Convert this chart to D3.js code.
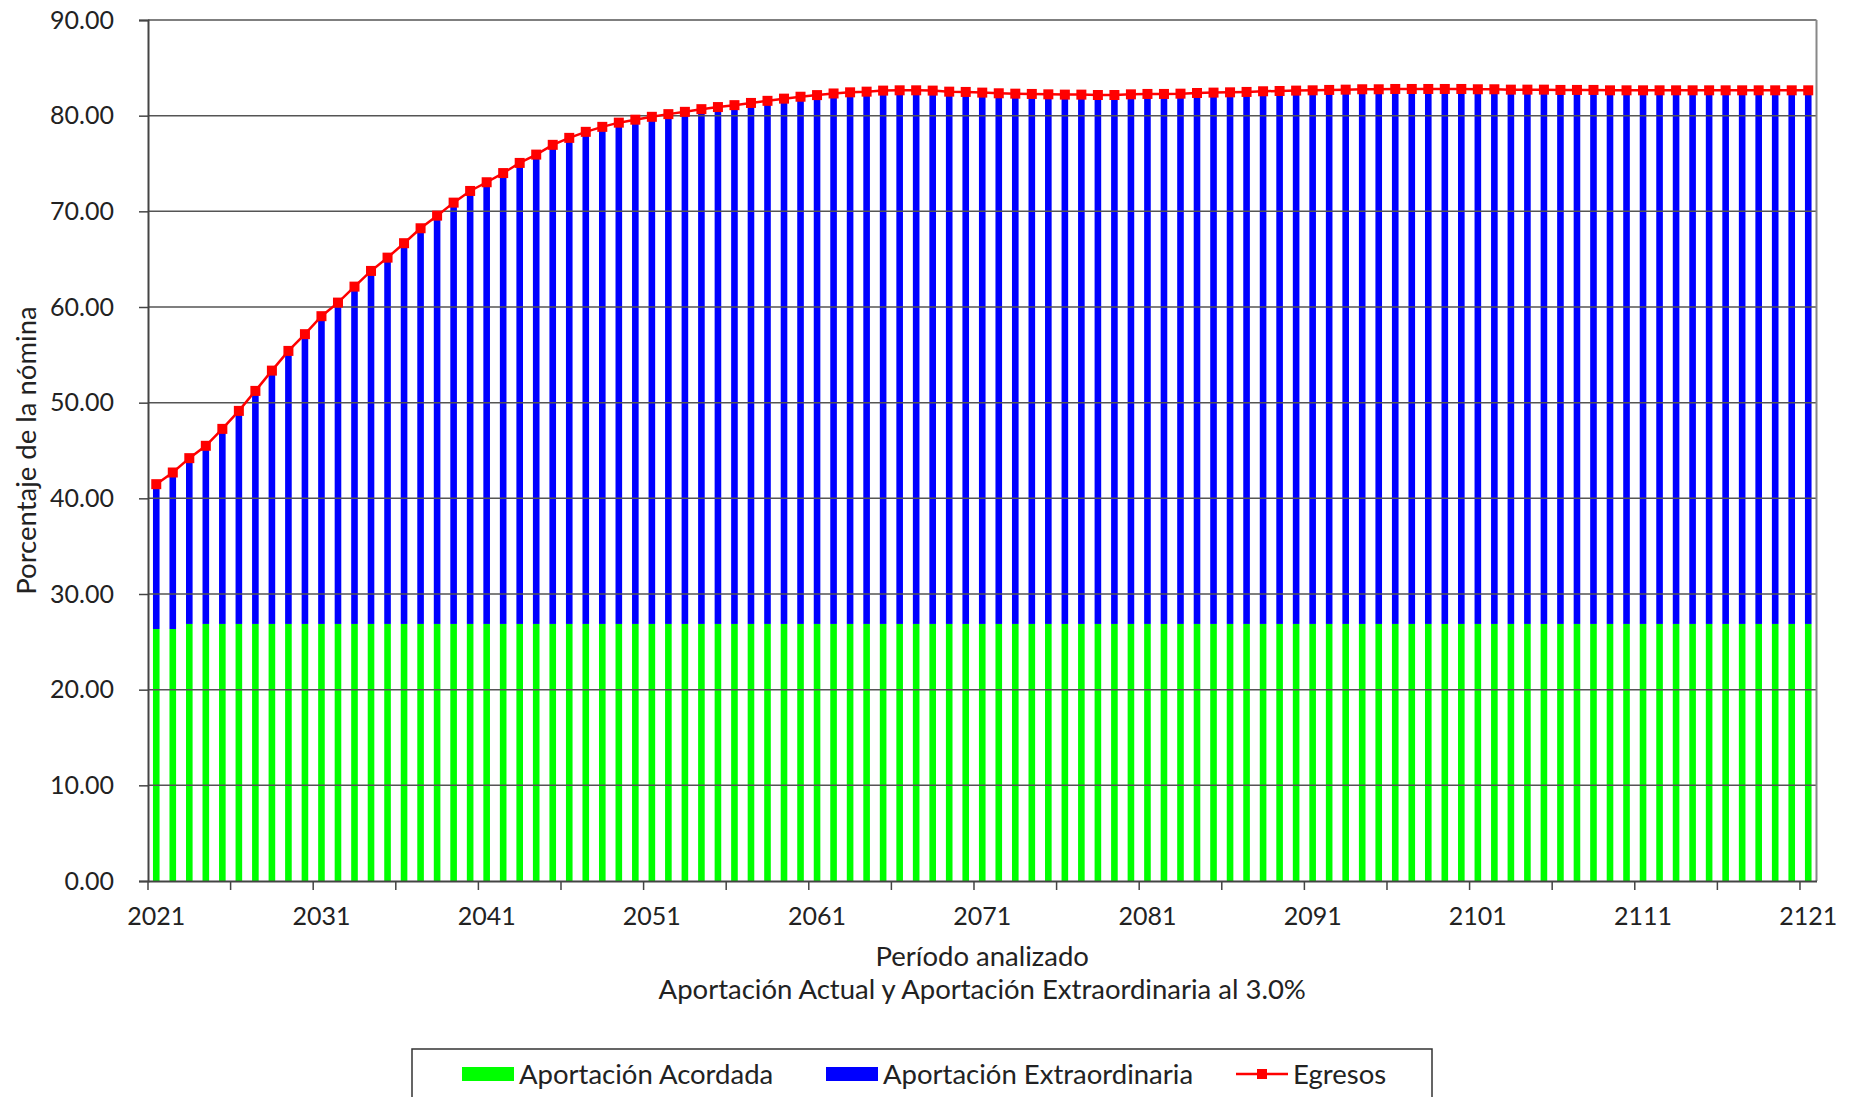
<!DOCTYPE html>
<html>
<head>
<meta charset="utf-8">
<script src="https://cdn.jsdelivr.net/npm/d3@7"></script>
<style>
  body { margin: 0; background: #fff; }
  text { font-family: Lato, "Open Sans", sans-serif; fill: #222; }
</style>
</head>
<body>
<div id="chart-area"></div>
<script>
// categories
var years = d3.range(2021, 2122);
var labelYears = [2021, 2031, 2041, 2051, 2061, 2071, 2081, 2091, 2101, 2111, 2121];
var yTicks = [0, 10, 20, 30, 40, 50, 60, 70, 80, 90];

// Aportación Acordada (green)
var acordada = [
  26.34, 26.34, 26.87, 26.87, 26.87, 26.87, 26.87, 26.87, 26.87, 26.87,
  26.87, 26.87, 26.87, 26.87, 26.87, 26.87, 26.87, 26.87, 26.87, 26.87,
  26.87, 26.87, 26.87, 26.87, 26.87, 26.87, 26.87, 26.87, 26.87, 26.87,
  26.87, 26.87, 26.87, 26.87, 26.87, 26.87, 26.87, 26.87, 26.87, 26.87,
  26.87, 26.87, 26.87, 26.87, 26.87, 26.87, 26.87, 26.87, 26.87, 26.87,
  26.87, 26.87, 26.87, 26.87, 26.87, 26.87, 26.87, 26.87, 26.87, 26.87,
  26.87, 26.87, 26.87, 26.87, 26.87, 26.87, 26.87, 26.87, 26.87, 26.87,
  26.87, 26.87, 26.87, 26.87, 26.87, 26.87, 26.87, 26.87, 26.87, 26.87,
  26.87, 26.87, 26.87, 26.87, 26.87, 26.87, 26.87, 26.87, 26.87, 26.87,
  26.87, 26.87, 26.87, 26.87, 26.87, 26.87, 26.87, 26.87, 26.87, 26.87,
  26.87
];

// Egresos (red line) = top of the stacked bar
var egresos = [
  41.48, 42.70, 44.20, 45.49, 47.26, 49.14, 51.23, 53.35, 55.41, 57.16,
  59.04, 60.46, 62.13, 63.77, 65.16, 66.67, 68.23, 69.55, 70.91, 72.13,
  73.04, 74.00, 75.06, 75.93, 76.95, 77.68, 78.31, 78.83, 79.27, 79.58,
  79.88, 80.16, 80.40, 80.68, 80.90, 81.10, 81.33, 81.55, 81.78, 81.98,
  82.15, 82.32, 82.44, 82.51, 82.62, 82.65, 82.65, 82.62, 82.51, 82.48,
  82.41, 82.34, 82.30, 82.27, 82.23, 82.20, 82.20, 82.16, 82.16, 82.23,
  82.27, 82.27, 82.30, 82.37, 82.41, 82.44, 82.48, 82.55, 82.58, 82.62,
  82.65, 82.69, 82.72, 82.76, 82.76, 82.79, 82.79, 82.79, 82.79, 82.79,
  82.76, 82.76, 82.72, 82.72, 82.72, 82.69, 82.69, 82.69, 82.65, 82.65,
  82.65, 82.65, 82.65, 82.65, 82.65, 82.65, 82.65, 82.65, 82.65, 82.65,
  82.65
];

var svgWidth = 1849, svgHeight = 1097;
var margin = {left: 148, top: 20, right: 32.5, bottom: 216};
var width = svgWidth - margin.left - margin.right;
var height = svgHeight - margin.top - margin.bottom;

var svg = d3.select('#chart-area').append('svg')
  .attr('width', svgWidth).attr('height', svgHeight);

var g = svg.append('g').attr('transform', 'translate(' + margin.left + ',' + margin.top + ')');

var x = d3.scaleBand().domain(years).range([0, width])
  .paddingInner(0.6).paddingOuter(0.3);
var y = d3.scaleLinear().domain([0, 90]).range([height, 0]);

var data = years.map(function(yr, i) {
  return {year: yr, a: acordada[i], e: egresos[i]};
});

// bars
g.selectAll('rect.acordada').data(data).enter().append('rect')
  .attr('class', 'acordada')
  .attr('x', function(d) { return x(d.year); })
  .attr('width', x.bandwidth())
  .attr('y', function(d) { return y(d.a); })
  .attr('height', function(d) { return y(0) - y(d.a); })
  .attr('fill', '#00ff00');

g.selectAll('rect.extra').data(data).enter().append('rect')
  .attr('class', 'extra')
  .attr('x', function(d) { return x(d.year); })
  .attr('width', x.bandwidth())
  .attr('y', function(d) { return y(d.e); })
  .attr('height', function(d) { return y(d.a) - y(d.e); })
  .attr('fill', '#0000ff');

// gridlines (drawn over the bars, like the original)
g.selectAll('line.grid').data(yTicks.filter(function(t) { return t > 0; })).enter()
  .append('line').attr('class', 'grid')
  .attr('x1', 0).attr('x2', width)
  .attr('y1', function(d) { return y(d); }).attr('y2', function(d) { return y(d); })
  .attr('stroke', '#555').attr('stroke-width', 1.5);

// plot border right
g.append('line').attr('x1', width).attr('x2', width).attr('y1', 0).attr('y2', height)
  .attr('stroke', '#888').attr('stroke-width', 2);

// y axis
var yAxis = d3.axisLeft(y).tickValues(yTicks).tickFormat(d3.format('.2f')).tickSize(9).tickPadding(25);
var ya = g.append('g').call(yAxis);
ya.select('.domain').attr('stroke', '#444').attr('stroke-width', 2);
ya.selectAll('.tick line').attr('stroke', '#444').attr('stroke-width', 1.5);
ya.selectAll('text').style('font-size', '25px').attr('fill', '#222');

// x axis: labels every 10 years
var xAxis = d3.axisBottom(x).tickValues(labelYears).tickSize(0).tickPadding(26);
var xa = g.append('g').attr('transform', 'translate(0,' + height + ')').call(xAxis);
xa.select('.domain').attr('stroke', '#444').attr('stroke-width', 2);
xa.selectAll('text').style('font-size', '25px').attr('fill', '#222');

// x tick marks every 5 categories, on category boundaries
var half = (x.step() - x.bandwidth()) / 2;
var tickYears = years.filter(function(yr, i) { return i % 5 === 0; });
g.selectAll('line.xtick').data(tickYears).enter().append('line')
  .attr('class', 'xtick')
  .attr('x1', function(d) { return x(d) - half; })
  .attr('x2', function(d) { return x(d) - half; })
  .attr('y1', height).attr('y2', height + 9)
  .attr('stroke', '#444').attr('stroke-width', 1.5);

// Egresos line + square markers
var line = d3.line()
  .x(function(d) { return x(d.year) + x.bandwidth() / 2; })
  .y(function(d) { return y(d.e); });

g.append('path').datum(data)
  .attr('d', line).attr('fill', 'none')
  .attr('stroke', '#ff0000').attr('stroke-width', 2.5);

g.selectAll('rect.marker').data(data).enter().append('rect')
  .attr('class', 'marker')
  .attr('x', function(d) { return x(d.year) + x.bandwidth() / 2 - 5; })
  .attr('y', function(d) { return y(d.e) - 5; })
  .attr('width', 10).attr('height', 10)
  .attr('fill', '#ff0000');

// axis titles
var cx = margin.left + width / 2;

svg.append('text')
  .attr('transform', 'translate(29,' + (margin.top + height / 2) + ') rotate(-90)')
  .attr('text-anchor', 'middle').attr('dominant-baseline', 'middle')
  .style('font-size', '27.5px')
  .text('Porcentaje de la nómina');

svg.append('text')
  .attr('x', cx).attr('y', 966)
  .attr('text-anchor', 'middle')
  .style('font-size', '27.5px')
  .text('Período analizado');

svg.append('text')
  .attr('x', cx).attr('y', 999)
  .attr('text-anchor', 'middle')
  .style('font-size', '27.5px')
  .text('Aportación Actual y Aportación Extraordinaria al 3.0%');

// legend
var legend = svg.append('g');
legend.append('rect')
  .attr('x', 412).attr('y', 1049).attr('width', 1020).attr('height', 70)
  .attr('fill', 'none').attr('stroke', '#333').attr('stroke-width', 1.5);

var legendItems = [
  {label: 'Aportación Acordada', color: '#00ff00', type: 'rect', x: 462},
  {label: 'Aportación Extraordinaria', color: '#0000ff', type: 'rect', x: 826},
  {label: 'Egresos', color: '#ff0000', type: 'line', x: 1236}
];

legendItems.forEach(function(it) {
  if (it.type === 'rect') {
    legend.append('rect').attr('x', it.x).attr('y', 1067).attr('width', 52).attr('height', 14)
      .attr('fill', it.color);
  } else {
    legend.append('line').attr('x1', it.x).attr('x2', it.x + 52).attr('y1', 1074).attr('y2', 1074)
      .attr('stroke', it.color).attr('stroke-width', 2.5);
    legend.append('rect').attr('x', it.x + 21).attr('y', 1069).attr('width', 10).attr('height', 10)
      .attr('fill', it.color);
  }
  legend.append('text')
    .attr('x', it.x + 57).attr('y', 1084)
    .style('font-size', '27.5px')
    .text(it.label);
});
</script>
</body>
</html>
